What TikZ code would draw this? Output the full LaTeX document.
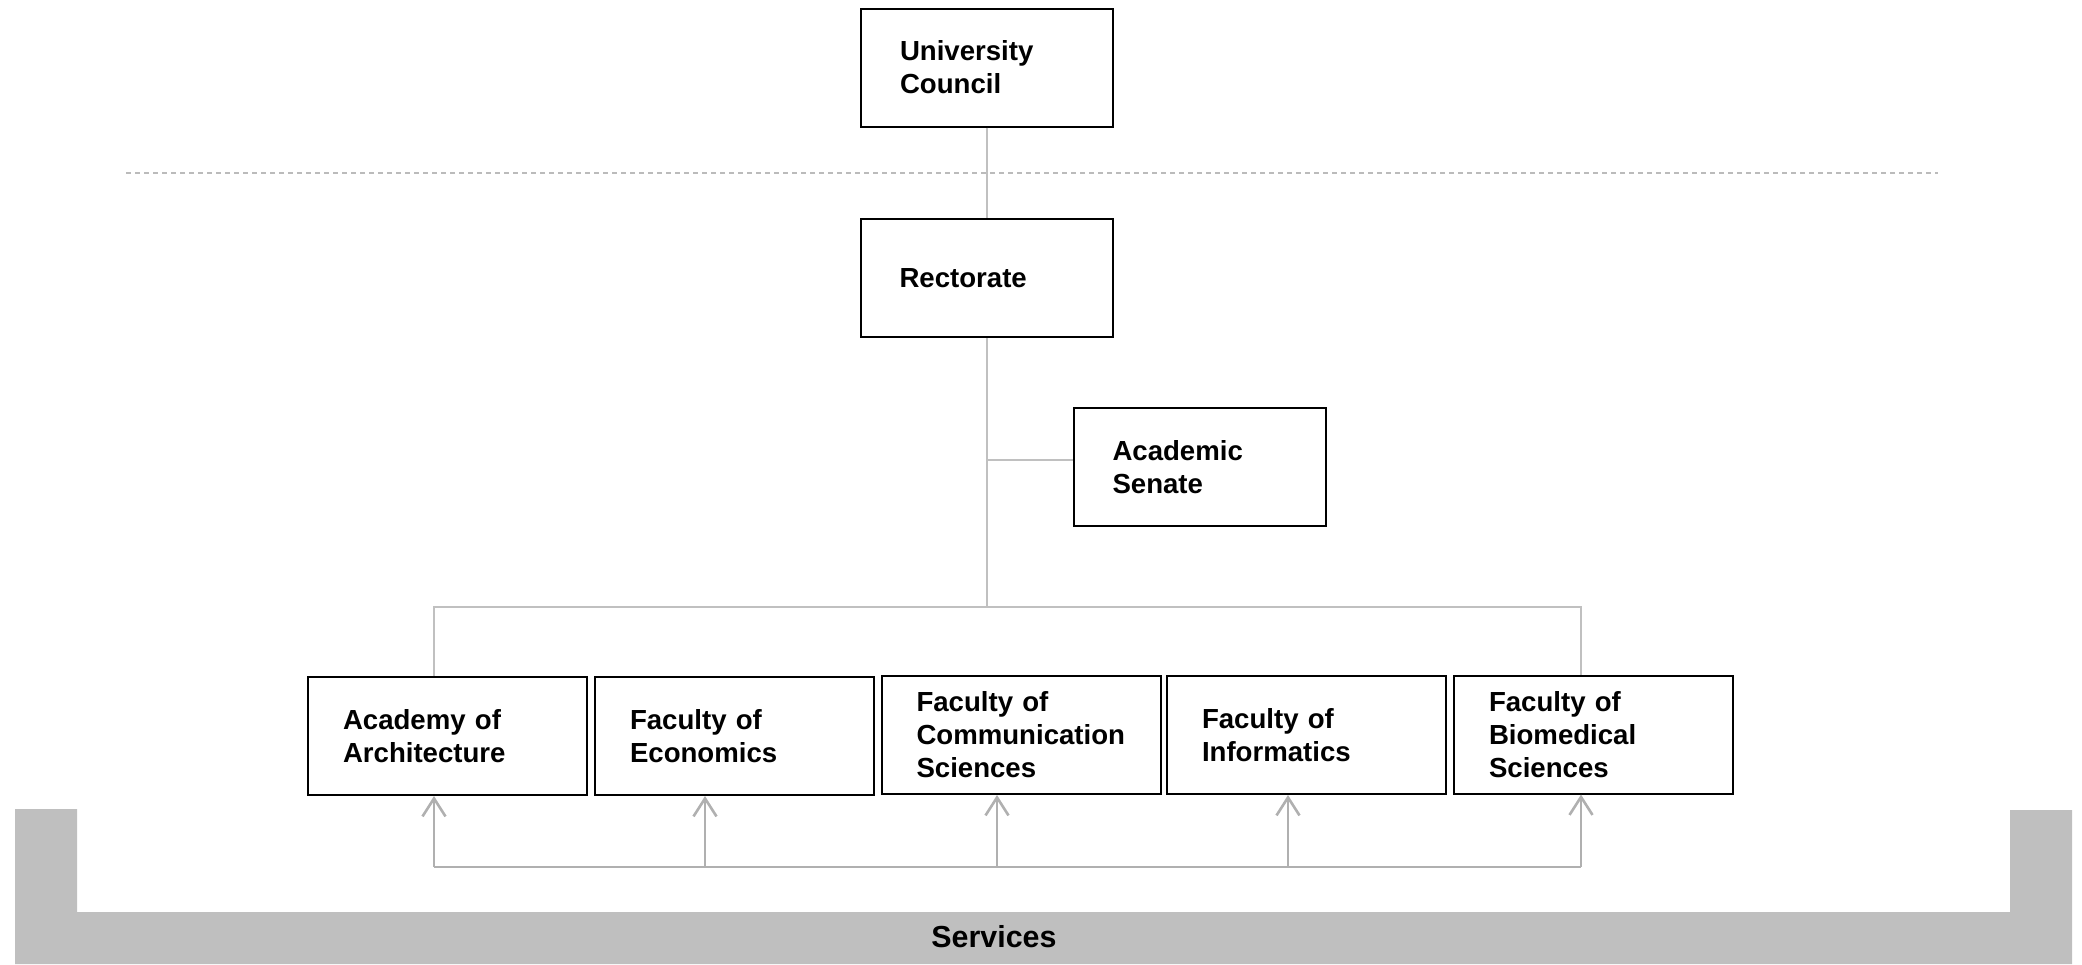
\documentclass[tikz,border=0pt]{standalone}
\usepackage{fontspec}
\setmainfont{Liberation Sans}
\usetikzlibrary{arrows.meta}
\definecolor{conn}{HTML}{C0C0C0}
\definecolor{arrc}{HTML}{B0B0B0}
\definecolor{dashc}{HTML}{BBBBBB}
\definecolor{servc}{HTML}{BFBFBF}
\tikzset{
  orgbox/.style={draw=black, line width=1pt, fill=white, inner xsep=0pt, inner ysep=0pt,
    align=left, font=\fontsize{13.8}{16.5}\selectfont\bfseries},
  topbox/.style={orgbox, minimum width=126pt, minimum height=59pt, text width=87pt},
  botbox/.style={orgbox, minimum width=139.5pt, minimum height=59pt, text width=104.5pt},
  connline/.style={draw=conn, line width=1pt},
  uparrow/.style={draw=arrc, line width=1.3pt, -{Straight Barb[length=9pt, width=11.5pt, line width=1.3pt]}},
  sepline/.style={draw=dashc, line width=0.75pt, dash pattern=on 2.5pt off 2pt},
  servband/.style={fill=servc, draw=none}
}
\begin{document}
\begin{tikzpicture}[x=0.5pt, y=-0.5pt]
\useasboundingbox (0,0) rectangle (2082,964);

% Services band
\fill[servband] (15,809) -- (77,809) -- (77,912) -- (2010,912) -- (2010,810) -- (2072,810) -- (2072,964) -- (15,964) -- cycle;
\node[font=\fontsize{15.2}{18}\selectfont\bfseries, inner sep=0pt] (serv) at (994,937) {Services};

% dashed separator
\coordinate (dl) at (126,173);
\coordinate (dr) at (1938,173);
\draw[sepline] (dl) -- (dr);

% nodes
\node[topbox] (uc) at (987,67.5) {University\\Council};
\node[topbox] (rect) at (986.5,278) {Rectorate};
\node[topbox] (sen) at (1199.5,467) {Academic\\Senate};

\node[botbox] (arch) at (447.5,736) {Academy of\\Architecture};
\node[botbox] (econ) at (734.5,736) {Faculty of\\Economics};
\node[botbox] (comm) at (1021,735) {Faculty of\\Communication\\Sciences};
\node[botbox] (info) at (1306.5,735) {Faculty of\\Informatics};
\node[botbox] (bio) at (1593.5,734.5) {Faculty of\\Biomedical\\Sciences};

% hierarchy connectors
\coordinate (sj) at (987,460);
\coordinate (bj) at (987,607);
\coordinate (bl) at (434,607);
\coordinate (br) at (1581,607);
\draw[connline] (uc.south -| sj) -- (rect.north -| sj);
\draw[connline] (rect.south -| sj) -- (bj);
\draw[connline] (sj) -- (sen.west |- sj);
\draw[connline] (arch.north -| bl) -- (bl) -- (br) -- (bio.north -| br);

% services arrows
\coordinate (a1) at (434,867);
\coordinate (a2) at (705,867);
\coordinate (a3) at (997,867);
\coordinate (a4) at (1288,867);
\coordinate (a5) at (1581,867);
\draw[draw=arrc, line width=1.2pt] (a1) -- (a5);
\draw[uparrow] (a1) -- (a1 |- arch.south);
\draw[uparrow] (a2) -- (a2 |- econ.south);
\draw[uparrow] (a3) -- (a3 |- comm.south);
\draw[uparrow] (a4) -- (a4 |- info.south);
\draw[uparrow] (a5) -- (a5 |- bio.south);
\end{tikzpicture}
\end{document}
